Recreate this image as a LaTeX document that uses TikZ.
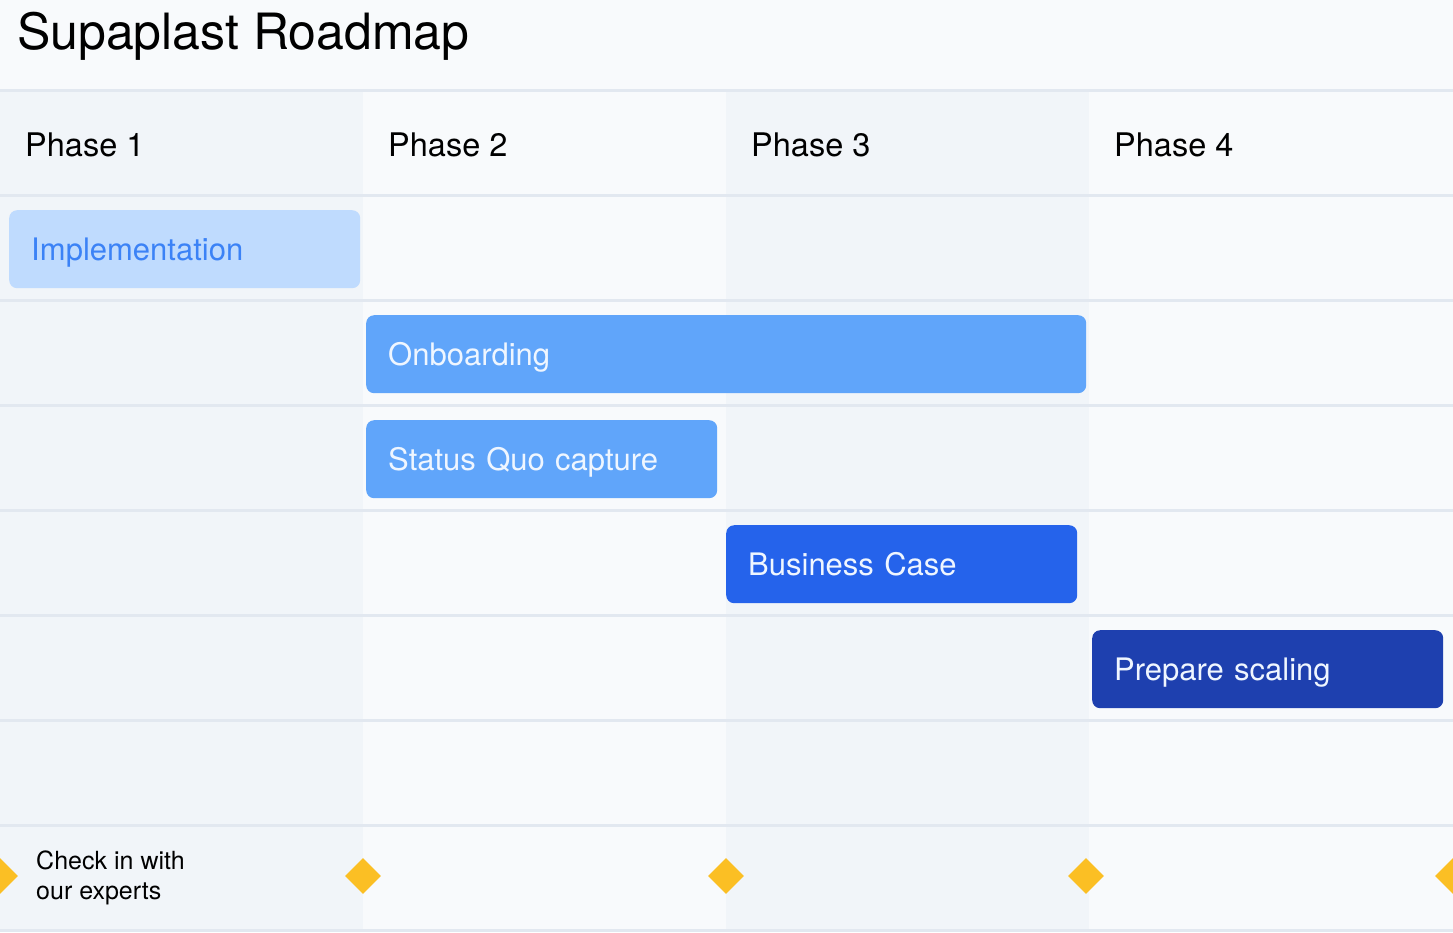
\documentclass[tikz,border=0pt]{standalone}
\usepackage{fontspec}
\setmainfont{TeX Gyre Heros}
\usetikzlibrary{shapes.geometric}
\definecolor{bg}{HTML}{F8FAFC}
\definecolor{shadecol}{HTML}{F1F5F9}
\definecolor{gridc}{HTML}{E2E8F0}
\definecolor{blueA}{HTML}{BFDBFE}
\definecolor{blueAtext}{HTML}{3B82F6}
\definecolor{blueB}{HTML}{60A5FA}
\definecolor{blueC}{HTML}{2563EB}
\definecolor{blueD}{HTML}{1E40AF}
\definecolor{bartext}{HTML}{EFF6FF}
\definecolor{amber}{HTML}{FBBF24}
\begin{document}
\begin{tikzpicture}[x=1pt,y=-1pt,
  bar/.style={rounded corners=8pt, minimum height=78pt, inner xsep=22pt, inner ysep=0pt,
    text height=22pt, text depth=0pt,
    align=left, anchor=north west, font=\fontsize{31}{37}\selectfont},
  phase/.style={anchor=base west, inner sep=0pt, font=\fontsize{32.5}{38}\selectfont},
  gline/.style={draw=gridc, line width=3pt},
  milestone/.style={diamond, fill=amber, minimum width=36pt, minimum height=36pt, inner sep=0pt}]
\useasboundingbox (0,0) rectangle (1453,932);
\fill[bg] (0,0) rectangle (1453,932);
\fill[shadecol] (0,90) rectangle (363,932);
\fill[shadecol] (726,90) rectangle (1089,932);
\foreach \y in {90,195,...,930} \draw[gline] (0,\y) -- (1453,\y);

\node[anchor=base west, inner sep=0pt, font=\fontsize{50}{60}\selectfont] (title) at (17,49) {Supaplast Roadmap};

\node[phase] (p1) at (25,156) {Phase 1};
\node[phase] (p2) at (388,156) {Phase 2};
\node[phase] (p3) at (751,156) {Phase 3};
\node[phase] (p4) at (1114,156) {Phase 4};

\node[bar, fill=blueA, text=blueAtext, text width=307pt] (impl) at (9,210) {Implementation};
\node[bar, fill=blueB, text=bartext, text width=676pt] (onb) at (366,315) {Onboarding};
\node[bar, fill=blueB, text=bartext, text width=307pt] (sq) at (366,420) {Status Quo capture};
\node[bar, fill=blueC, text=bartext, text width=307pt] (bc) at (726,525) {Business Case};
\node[bar, fill=blueD, text=bartext, text width=307pt] (ps) at (1092,630) {Prepare scaling};

\node[milestone] (m0) at (0,876) {};
\node[milestone] (m1) at (363,876) {};
\node[milestone] (m2) at (726,876) {};
\node[milestone] (m3) at (1086,876) {};
\node[milestone] (m4) at (1453,876) {};

\node[anchor=north west, align=left, inner sep=0pt, font=\fontsize{25}{30}\selectfont] (check) at (36,851) {Check in with\\our experts};
\end{tikzpicture}
\end{document}
